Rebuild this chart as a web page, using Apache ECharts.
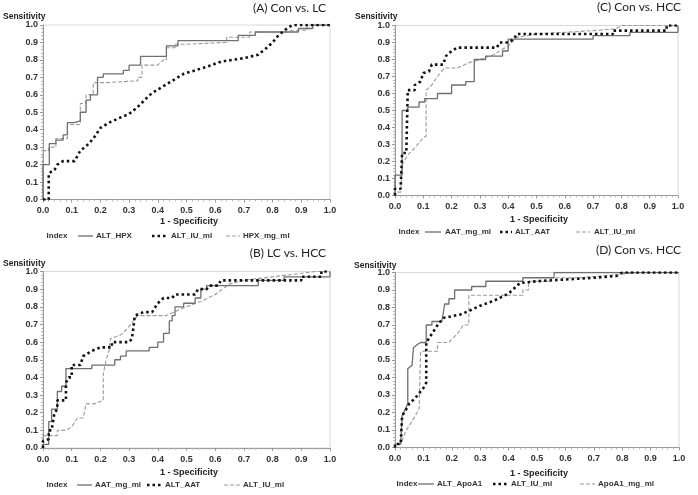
<!DOCTYPE html>
<html><head><meta charset="utf-8">
<script src="https://cdn.jsdelivr.net/npm/echarts@6/dist/echarts.min.js"></script>
<style>html,body{margin:0;padding:0;background:#fff}#c{width:698px;height:495px}</style>
</head><body><div id="c"></div>
<script>
// ---------- DATA ----------
const tickLabels = ['0.0','0.1','0.2','0.3','0.4','0.5','0.6','0.7','0.8','0.9','1.0'];
const panelTitles = ['(A) Con vs. LC','(B) LC vs. HCC','(C) Con vs. HCC','(D) Con vs. HCC'];
const legendA = ['ALT_HPX','ALT_IU_ml','HPX_mg_ml'];
const legendB = ['AAT_mg_ml','ALT_AAT','ALT_IU_ml'];
const legendC = ['AAT_mg_ml','ALT_AAT','ALT_IU_ml'];
const legendD = ['ALT_ApoA1','ALT_IU_ml','ApoA1_mg_ml'];

// Panel A: Con vs. LC
const A_ALT_HPX = [[0,0],[0,0.2],[0.022,0.2],[0.022,0.32],[0.045,0.32],[0.045,0.34],[0.07,0.34],[0.07,0.37],[0.085,0.37],[0.085,0.44],[0.11,0.44],[0.11,0.45],[0.13,0.45],[0.13,0.5],[0.15,0.5],[0.15,0.57],[0.165,0.57],[0.165,0.6],[0.19,0.6],[0.19,0.7],[0.21,0.7],[0.21,0.72],[0.28,0.72],[0.28,0.74],[0.3,0.74],[0.3,0.77],[0.34,0.77],[0.34,0.82],[0.43,0.82],[0.43,0.88],[0.47,0.88],[0.47,0.91],[0.68,0.91],[0.68,0.94],[0.74,0.94],[0.74,0.96],[0.89,0.96],[0.89,0.98],[0.94,0.98],[0.94,1.0],[1,1]];
const A_ALT_IU_ml = [[0,0],[0.02,0],[0.02,0.15],[0.04,0.17],[0.05,0.2],[0.07,0.22],[0.11,0.22],[0.13,0.28],[0.16,0.32],[0.18,0.36],[0.2,0.41],[0.23,0.44],[0.27,0.47],[0.3,0.49],[0.33,0.53],[0.36,0.58],[0.38,0.61],[0.42,0.65],[0.46,0.69],[0.49,0.72],[0.53,0.74],[0.57,0.76],[0.62,0.79],[0.66,0.8],[0.7,0.81],[0.75,0.83],[0.78,0.87],[0.8,0.9],[0.82,0.94],[0.85,0.98],[0.87,1.0],[1,1]];
const A_HPX_mg_ml = [[0,0],[0,0.28],[0.02,0.28],[0.02,0.3],[0.045,0.3],[0.045,0.35],[0.085,0.35],[0.085,0.43],[0.13,0.43],[0.13,0.55],[0.15,0.55],[0.15,0.6],[0.175,0.6],[0.175,0.67],[0.22,0.67],[0.22,0.68],[0.33,0.68],[0.33,0.7],[0.345,0.7],[0.345,0.77],[0.4,0.77],[0.42,0.8],[0.43,0.8],[0.43,0.87],[0.46,0.87],[0.46,0.89],[0.5,0.89],[0.5,0.9],[0.64,0.9],[0.64,0.93],[0.72,0.93],[0.72,0.96],[0.85,0.96],[0.87,0.97],[0.92,0.97],[0.92,1.0],[1,1]];

// Panel B: LC vs. HCC
const B_AAT_mg_ml = [[0,0],[0,0.02],[0.02,0.02],[0.02,0.15],[0.03,0.15],[0.03,0.22],[0.05,0.22],[0.05,0.32],[0.065,0.32],[0.065,0.35],[0.08,0.35],[0.08,0.45],[0.17,0.45],[0.17,0.47],[0.25,0.47],[0.25,0.5],[0.27,0.5],[0.27,0.52],[0.29,0.52],[0.29,0.55],[0.37,0.55],[0.37,0.57],[0.4,0.57],[0.4,0.6],[0.42,0.6],[0.42,0.65],[0.44,0.65],[0.44,0.72],[0.45,0.72],[0.45,0.75],[0.46,0.75],[0.46,0.8],[0.49,0.8],[0.49,0.82],[0.53,0.82],[0.53,0.85],[0.55,0.85],[0.55,0.9],[0.57,0.9],[0.57,0.92],[0.75,0.92],[0.75,0.95],[0.84,0.95],[0.84,0.97],[1,0.97],[1,1]];
const B_ALT_AAT = [[0,0],[0,0.04],[0.02,0.05],[0.02,0.1],[0.03,0.1],[0.04,0.2],[0.05,0.22],[0.05,0.27],[0.08,0.27],[0.08,0.37],[0.09,0.4],[0.1,0.4],[0.1,0.47],[0.13,0.47],[0.14,0.52],[0.17,0.55],[0.2,0.57],[0.24,0.57],[0.24,0.6],[0.3,0.6],[0.31,0.62],[0.32,0.75],[0.35,0.77],[0.38,0.77],[0.4,0.82],[0.42,0.85],[0.45,0.85],[0.46,0.87],[0.53,0.87],[0.54,0.9],[0.57,0.9],[0.58,0.92],[0.61,0.92],[0.62,0.95],[0.9,0.95],[0.9,0.97],[0.97,0.97],[0.97,1.0],[1,1]];
const B_ALT_IU_ml = [[0,0],[0,0.07],[0.05,0.07],[0.05,0.1],[0.08,0.1],[0.1,0.12],[0.12,0.17],[0.14,0.17],[0.15,0.25],[0.18,0.25],[0.21,0.27],[0.21,0.42],[0.22,0.5],[0.23,0.55],[0.235,0.62],[0.27,0.64],[0.29,0.67],[0.33,0.75],[0.43,0.75],[0.47,0.78],[0.5,0.8],[0.55,0.83],[0.6,0.87],[0.65,0.93],[0.7,0.95],[0.8,0.97],[0.9,0.99],[0.95,1.0],[1,1]];

// Panel C: Con vs. HCC
const C_AAT_mg_ml = [[0,0],[0,0.12],[0.025,0.12],[0.025,0.5],[0.045,0.5],[0.045,0.52],[0.085,0.52],[0.085,0.55],[0.105,0.55],[0.105,0.57],[0.15,0.57],[0.15,0.6],[0.2,0.6],[0.2,0.65],[0.25,0.65],[0.25,0.67],[0.28,0.67],[0.28,0.8],[0.32,0.8],[0.32,0.82],[0.38,0.82],[0.38,0.85],[0.4,0.85],[0.4,0.92],[0.7,0.92],[0.7,0.94],[0.83,0.94],[0.83,0.96],[1,0.96],[1,1]];
const C_ALT_AAT = [[0,0],[0,0.04],[0.02,0.04],[0.025,0.25],[0.04,0.25],[0.045,0.62],[0.07,0.62],[0.07,0.65],[0.09,0.67],[0.1,0.72],[0.12,0.73],[0.13,0.77],[0.17,0.77],[0.18,0.82],[0.2,0.85],[0.22,0.87],[0.36,0.87],[0.37,0.9],[0.4,0.9],[0.42,0.92],[0.43,0.95],[0.77,0.95],[0.77,0.97],[0.96,0.97],[0.96,1.0],[1,1]];
const C_ALT_IU_ml = [[0,0],[0,0.02],[0.02,0.02],[0.025,0.18],[0.045,0.24],[0.07,0.28],[0.1,0.34],[0.11,0.35],[0.11,0.62],[0.13,0.65],[0.15,0.7],[0.175,0.75],[0.22,0.75],[0.26,0.78],[0.3,0.8],[0.35,0.83],[0.4,0.88],[0.43,0.93],[0.5,0.95],[0.6,0.96],[0.7,0.97],[0.78,0.98],[0.8,1.0],[1,1]];

// Panel D: Con vs. HCC
const D_ALT_ApoA1 = [[0,0],[0,0.02],[0.02,0.02],[0.025,0.18],[0.045,0.25],[0.045,0.45],[0.06,0.47],[0.065,0.57],[0.08,0.59],[0.09,0.6],[0.11,0.6],[0.11,0.7],[0.13,0.7],[0.13,0.72],[0.165,0.72],[0.175,0.82],[0.19,0.82],[0.19,0.85],[0.21,0.85],[0.21,0.9],[0.27,0.9],[0.27,0.92],[0.32,0.92],[0.32,0.95],[0.45,0.95],[0.45,0.97],[0.56,0.97],[0.56,1.0],[1,1]];
const D_ALT_IU_ml = [[0,0],[0,0.02],[0.02,0.02],[0.025,0.18],[0.04,0.22],[0.05,0.25],[0.07,0.28],[0.09,0.32],[0.1,0.34],[0.11,0.37],[0.11,0.6],[0.13,0.65],[0.15,0.7],[0.17,0.74],[0.2,0.75],[0.23,0.76],[0.26,0.78],[0.3,0.81],[0.35,0.84],[0.4,0.88],[0.44,0.94],[0.5,0.95],[0.6,0.96],[0.7,0.97],[0.78,0.98],[0.8,1.0],[1,1]];
const D_ApoA1_mg_ml = [[0,0],[0,0.02],[0.02,0.02],[0.04,0.1],[0.06,0.15],[0.085,0.22],[0.09,0.55],[0.15,0.55],[0.15,0.6],[0.19,0.6],[0.2,0.62],[0.22,0.65],[0.24,0.7],[0.26,0.7],[0.26,0.87],[0.45,0.87],[0.45,0.9],[0.47,0.9],[0.47,0.95],[0.55,0.95],[0.55,0.97],[0.65,0.97],[0.8,0.99],[0.85,1.0],[1,1]];

// ---------- LAYOUT / STYLE ----------
const FONT = '"Liberation Sans", Arial, sans-serif';
const grids = [
  {left:43, top:25, width:287, height:174.5},   // A
  {left:43, top:271.5, width:287, height:176.5}, // B
  {left:395, top:25.5, width:283, height:170},   // C
  {left:395, top:272.5, width:284, height:175}   // D
];
const styleSolid = {color:'#6f6f6f', width:1.3, type:'solid'};
const styleDot = {color:'#111', width:2.6, type:[2.5,3]};
const styleDash = {color:'#9a9a9a', width:1.1, type:[4,2]};

const panels = [
  {names:legendA, data:[A_ALT_HPX, A_ALT_IU_ml, A_HPX_mg_ml], styles:[styleSolid, styleDot, styleDash]},
  {names:legendB, data:[B_AAT_mg_ml, B_ALT_AAT, B_ALT_IU_ml], styles:[styleSolid, styleDot, styleDash]},
  {names:legendC, data:[C_AAT_mg_ml, C_ALT_AAT, C_ALT_IU_ml], styles:[styleSolid, styleDot, styleDash]},
  {names:legendD, data:[D_ALT_ApoA1, D_ALT_IU_ml, D_ApoA1_mg_ml], styles:[styleSolid, styleDot, styleDash]}
];

function fmt(v){ return tickLabels[Math.round(v*10)] || ''; }

function axis(i, isX){
  return {
    type:'value', gridIndex:i, min:0, max:1, interval:0.1,
    axisLine:{show:true, onZero:false, lineStyle:{color:'#999', width:1}},
    axisTick:{show:true, length:3, lineStyle:{color:'#999'}},
    minorTick:{show:true, splitNumber:5, length:2, lineStyle:{color:'#bbb'}},
    splitLine:{show:false},
    axisLabel:{show:true, showMinLabel:true, showMaxLabel:true, color:'#333', fontSize:9, fontWeight:'bold', fontFamily:FONT, formatter:fmt, margin:isX?7:5, hideOverlap:false}
  };
}

const option = {
  animation:false,
  backgroundColor:'#fff',
  grid: grids.map(g=>Object.assign({show:true, borderColor:'#d8d8d8', borderWidth:1, containLabel:false, outerBoundsMode:'none'}, g)),
  xAxis: grids.map((g,i)=>axis(i,true)),
  yAxis: grids.map((g,i)=>axis(i,false)),
  series: [],
  graphic: []
};

panels.forEach((p,i)=>{
  [2,0,1].forEach(k=>{
    option.series.push({
      type:'line', name:p.names[k], xAxisIndex:i, yAxisIndex:i,
      data:p.data[k], showSymbol:false, symbol:'none', smooth:false,
      lineStyle:p.styles[k], silent:true
    });
  });
});

const panelText = [
  {title:{x:326, y:8}, sens:{x:3, y:17}, spec:{x:189, y:222}, leg:{y:236, idx:57, items:[[78,93,96],[152,167,171],[226,240,243]]}},
  {title:{x:326, y:253}, sens:{x:3, y:264}, spec:{x:189, y:473}, leg:{y:485, idx:57, items:[[77,92,95],[147,162,165],[224,240,243]]}},
  {title:{x:681, y:7}, sens:{x:355, y:17}, spec:{x:539, y:220}, leg:{y:232, idx:409, items:[[425,441,445],[500,512,515],[576,590,594]]}},
  {title:{x:681, y:250}, sens:{x:354, y:266}, spec:{x:539, y:474}, leg:{y:484, idx:407, items:[[418,434,437],[493,507,511],[580,595,598]]}}
];
const LEGFONT = 'bold 8px ' + FONT;
panelText.forEach((t,i)=>{
  const p = panels[i];
  option.graphic.push(
    {type:'text', x:t.title.x, y:t.title.y, style:{text:panelTitles[i], align:'right', verticalAlign:'middle', font:'12px Lato, "Open Sans", sans-serif', fill:'#222'}, silent:true},
    {type:'text', x:t.sens.x, y:t.sens.y, style:{text:'Sensitivity', align:'left', verticalAlign:'middle', font:'bold 8.5px ' + FONT, fill:'#222'}, silent:true},
    {type:'text', x:t.spec.x, y:t.spec.y, style:{text:'1 - Specificity', align:'center', verticalAlign:'middle', font:'bold 9px ' + FONT, fill:'#222'}, silent:true},
    {type:'text', x:t.leg.idx, y:t.leg.y, style:{text:'Index', align:'center', verticalAlign:'middle', font:LEGFONT, fill:'#333'}, silent:true}
  );
  t.leg.items.forEach((it,k)=>{
    const st = p.styles[k];
    option.graphic.push(
      {type:'line', shape:{x1:it[0], y1:t.leg.y, x2:it[1], y2:t.leg.y}, style:{stroke:st.color, lineWidth:st.width, lineDash:st.type==='solid'?null:st.type}, silent:true},
      {type:'text', x:it[2], y:t.leg.y, style:{text:p.names[k], align:'left', verticalAlign:'middle', font:LEGFONT, fill:'#333'}, silent:true}
    );
  });
});

const chart = echarts.init(document.getElementById('c'), null, {renderer:'canvas'});
chart.setOption(option);
</script>
</body></html>
